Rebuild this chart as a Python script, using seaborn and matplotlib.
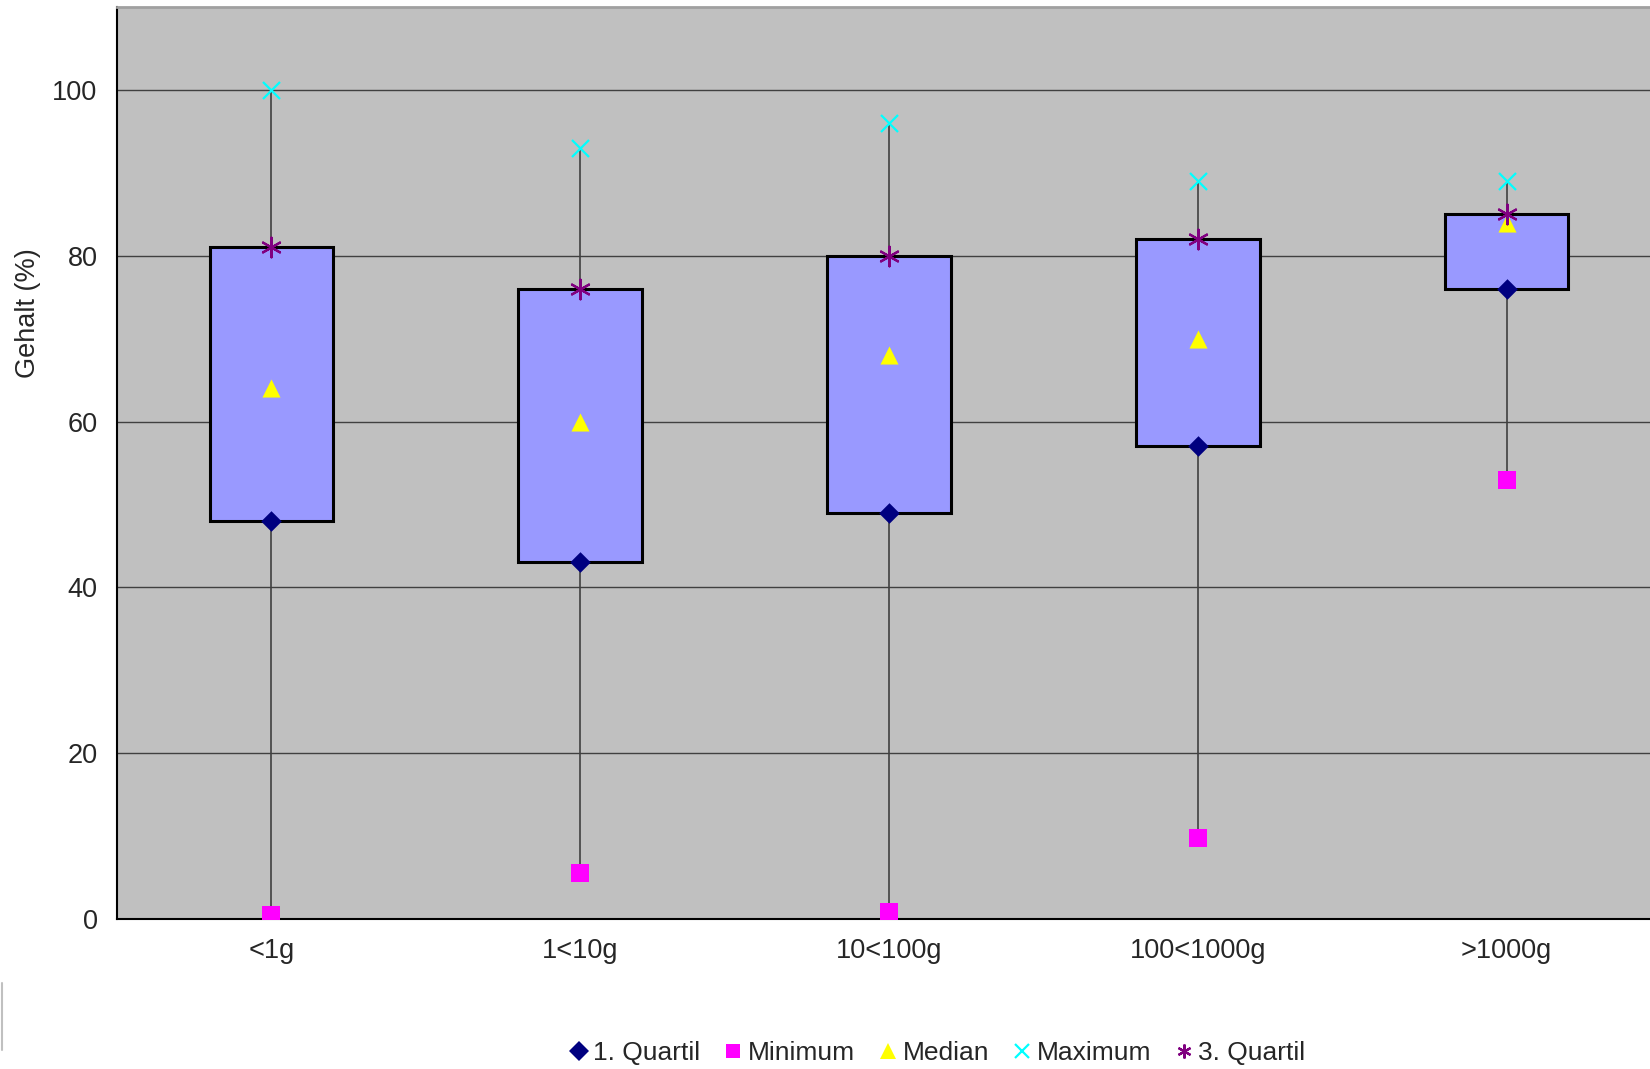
import numpy as np
import pandas as pd
import seaborn as sns
import matplotlib.pyplot as plt
from matplotlib.lines import Line2D

categories = ["<1g", "1<10g", "10<100g", "100<1000g", ">1000g"]
minimum = [0.5, 5.5, 0.8, 9.8, 53]
q1 = [48, 43, 49, 57, 76]
median = [64, 60, 68, 70, 84]
q3 = [81, 76, 80, 82, 85]
maximum = [100, 93, 96, 89, 89]

sns.set_style("white")
plt.rcParams["font.family"] = ["Liberation Sans", "DejaVu Sans"]

pos = np.arange(len(categories))
df = pd.DataFrame({"pos": pos, "Minimum": minimum, "1. Quartil": q1,
                   "Median": median, "3. Quartil": q3, "Maximum": maximum})

fig = plt.figure(figsize=(16.5, 10.69), dpi=100)
ax = fig.add_axes([117 / 1650, 1 - 919 / 1069, 1544 / 1650, 912 / 1069])
ax.set_facecolor("#C0C0C0")

# whiskers from min to max
ax.vlines(df["pos"], df["Minimum"], df["Maximum"], color="#404040", lw=1.2, zorder=2)

# boxes Q1..Q3
ax.bar(df["pos"], df["3. Quartil"] - df["1. Quartil"], bottom=df["1. Quartil"],
       width=0.4, color="#9999FF", edgecolor="black", linewidth=2.2, zorder=3)

series = [
    ("1. Quartil", "D", "#000080", 110),
    ("Minimum", "s", "#FF00FF", 150),
    ("Median", "^", "#FFFF00", 170),
    ("Maximum", "x", "#00FFFF", 150),
    ("3. Quartil", (6, 2, 0), "#800080", 200),
]
for name, mk, col, sz in series:
    lw = 1.6 if name in ("Maximum", "3. Quartil") else 0
    sns.scatterplot(data=df, x="pos", y=name, marker=mk, color=col, s=sz,
                    linewidth=lw, edgecolor=col, ax=ax, zorder=4, label=name,
                    legend=False)

ax.set_xlim(-0.5, len(categories) - 0.5)
ax.set_ylim(0, 110)
ax.set_yticks([0, 20, 40, 60, 80, 100])
ax.set_xticks(pos)
ax.set_xticklabels(categories)
ax.set_xticks(np.arange(-0.5, len(categories)), minor=True)
ax.tick_params(axis="x", which="major", length=0, pad=14, labelsize=19.5)
ax.tick_params(axis="x", which="minor", length=8, width=1, color="#404040", direction="out")
ax.tick_params(axis="y", length=8, width=1, color="#404040", direction="out", pad=6, labelsize=19.5)
ax.yaxis.grid(True, color="#404040", lw=1)
ax.set_axisbelow(True)
ax.set_xlabel("")
ax.set_ylabel("Gehalt (%)", fontsize=19.5)
ax.yaxis.set_label_coords(-0.049, 0.664)

for s in ["left", "bottom"]:
    ax.spines[s].set_color("black")
    ax.spines[s].set_linewidth(1.5)
ax.spines["top"].set_color("#A0A0A0")
ax.spines["top"].set_linewidth(2)
ax.spines["right"].set_visible(False)

handles = [Line2D([], [], ls="none", marker=mk, color=col, markersize=10 if mk != "^" else 12,
                  markeredgewidth=1.6 if name in ("Maximum", "3. Quartil") else 0)
           for name, mk, col, sz in series]
fig.legend(handles, [s[0] for s in series], loc="center", bbox_to_anchor=(0.567, 1 - 1053 / 1069),
           ncol=5, frameon=False, fontsize=19, handletextpad=0.05, columnspacing=0.75,
           handlelength=1.0)

fig.add_artist(Line2D([0.001, 0.001], [1 - 983 / 1069, 1 - 1050 / 1069], color="#C0C0C0", lw=1.5))

fig.savefig("out.png", dpi=100)
